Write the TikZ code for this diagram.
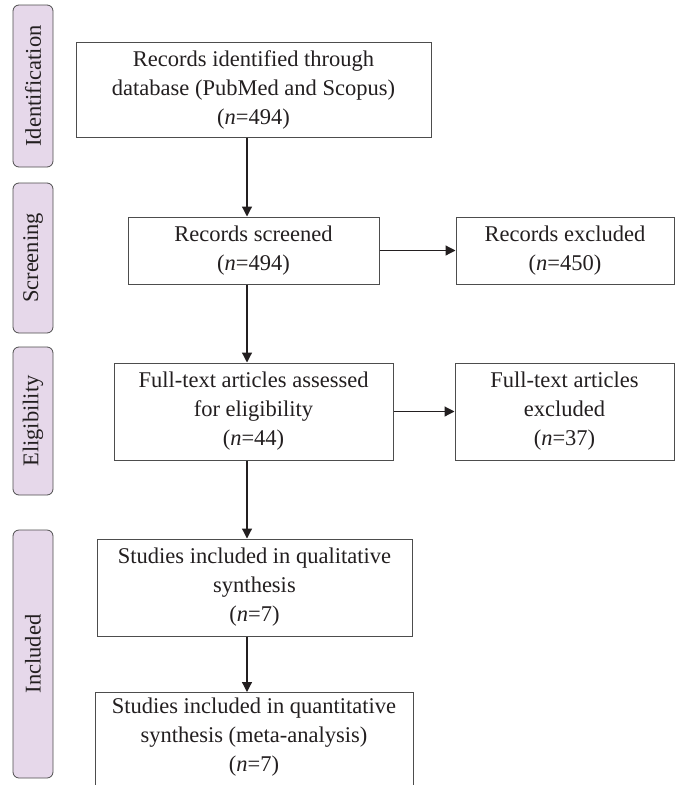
\documentclass[tikz,border=0pt]{standalone}
\usepackage{fontspec}
\setmainfont{Liberation Serif}
\usetikzlibrary{arrows.meta}
\definecolor{ink}{HTML}{231F20}
\definecolor{lav}{HTML}{E6D8EA}
\definecolor{edge}{HTML}{4D4D4D}
\begin{document}
\begin{tikzpicture}[x=1pt,y=-1pt,
  box/.style={draw=edge, line width=1pt, fill=white, inner sep=0pt, align=center, text=ink, font=\fontsize{22.5}{29}\selectfont},
  txt/.style={inner sep=0pt, align=center, text=ink, font=\fontsize{22.5}{29}\selectfont},
  stage/.style={draw=edge, line width=0.8pt, fill=lav, rounded corners=6pt, rotate=90, minimum height=40pt, inner sep=0pt, text=ink, font=\fontsize{22.5}{26}\selectfont},
  arr/.style={draw=ink, line width=1.2pt, -{Triangle[length=10pt,width=10pt]}}]
\useasboundingbox (0,0) rectangle (682,785);

% stage labels
\node[stage, minimum width=162pt] (sid) at (33,86) {Identification};
\node[stage, minimum width=150pt] (ssc) at (33,258) {Screening};
\node[stage, minimum width=148pt] (sel) at (33,421) {Eligibility};
\node[stage, minimum width=248pt] (sin) at (33,654) {Included};

% boxes
\node[box, minimum width=355pt, minimum height=95pt] (b1) at (253.5,89.5)
  {Records identified through\\database (PubMed and Scopus)\\(\textit{n}=494)};
\node[box, minimum width=251pt, minimum height=67pt] (b2) at (253.5,250.5)
  {Records screened\\(\textit{n}=494)};
\node[box, minimum width=218pt, minimum height=67pt] (b3) at (565,250.5)
  {Records excluded\\(\textit{n}=450)};
\node[box, minimum width=279pt, minimum height=97pt] (b4) at (253.5,411.5)
  {Full-text articles assessed\\for eligibility\\(\textit{n}=44)};
\node[box, minimum width=219pt, minimum height=97pt] (b5) at (564.5,411.5)
  {Full-text articles\\excluded\\(\textit{n}=37)};
\node[box, minimum width=315pt, minimum height=97pt] (b6) at (254.5,587.5)
  {Studies included in qualitative\\synthesis\\(\textit{n}=7)};
\node[box, minimum width=318pt, minimum height=110pt, anchor=north] (b7) at (254,692) {};
\node[txt] (b7t) at (254,737)
  {Studies included in quantitative\\synthesis (meta-analysis)\\(\textit{n}=7)};

% connectors
\coordinate (ax) at (247,0);
\draw[arr] (b1.south -| ax) -- (b2.north -| ax);
\draw[arr] (b2.south -| ax) -- (b4.north -| ax);
\draw[arr] (b4.south -| ax) -- (b6.north -| ax);
\draw[arr] (b6.south -| ax) -- (b7.north -| ax);
\draw[arr] (b2.east) -- (b3.west);
\draw[arr] (b4.east) -- (b5.west);
\end{tikzpicture}
\end{document}
